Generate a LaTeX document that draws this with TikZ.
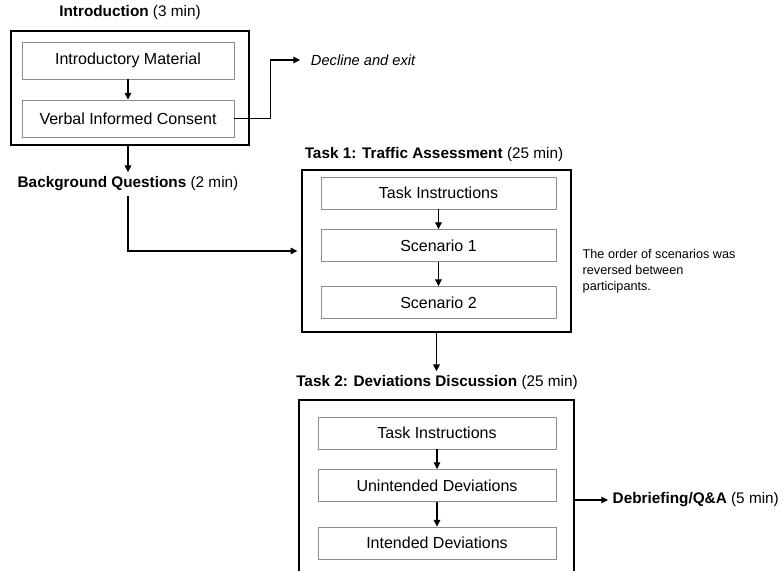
\documentclass[tikz,border=0pt]{standalone}
\usepackage{fontspec}
\setmainfont{Liberation Sans}
\usetikzlibrary{arrows.meta}

\begin{document}
\begin{tikzpicture}[x=0.75pt,y=-0.75pt,
  every node/.style={font=\fontsize{12}{14}\selectfont},
  title/.style={font=\fontsize{11.5}{14}\selectfont},
  outer/.style={draw=black,line width=1pt,inner sep=0pt},
  stagebox/.style={draw=black!45,line width=0.7pt,inner sep=0pt,minimum height=24pt},
  arr/.style={-{Triangle[length=5pt,width=5pt]},line width=0.8pt}]
% Canvas
\clip (0,0) rectangle (783,571);

% Introduction
\node[title] (introT) at (130,13) {\textbf{Introduction} (3 min)};
\node[outer,minimum width=178.5pt,minimum height=85.5pt] (intro) at (130,88) {};
\node[stagebox,minimum width=159pt,minimum height=27.75pt] (intromat) at (128,60.5) {Introductory Material};
\node[stagebox,minimum width=159pt,minimum height=27.75pt] (consent) at (128,118.5) {Verbal Informed Consent};
\node[anchor=west,inner xsep=8pt,font=\fontsize{11}{13}\selectfont] (decline) at (300,60) {\textit{Decline and exit}};
\draw[arr] (intromat) -- (consent);
\draw[arr] (consent.east) -- ++(36,0) |- (decline.west);

% Background questions
\node[title] (bgq) at (128,184) {\textbf{Background Questions} (2 min)};
\draw[arr] (intro.south -| consent) -- (bgq.north -| consent);

% Task 1
\node[title] (t1T) at (434,155) {\textbf{Task 1: Traffic Assessment} (25 min)};
\node[outer,minimum width=201.75pt,minimum height=121.5pt] (task1) at (436.5,251) {};
\node[stagebox,minimum width=176.25pt] (t1instr) at (438.5,193) {Task Instructions};
\node[stagebox,minimum width=176.25pt] (scen1) at (438.5,245.5) {Scenario 1};
\node[stagebox,minimum width=176.25pt] (scen2) at (438.5,302.5) {Scenario 2};
\node[anchor=west,align=left,font=\fontsize{9.5}{12}\selectfont] (order) at (578,271)
  {The order of scenarios was\\reversed between\\participants.};
\draw[arr] (t1instr) -- (scen1);
\draw[arr] (scen1) -- (scen2);
\draw[arr,shorten >=3pt] (bgq.south -| consent) |- (task1.west);

% Task 2
\node[title] (t2T) at (437,383) {\textbf{Task 2: Deviations Discussion} (25 min)};
\node[outer,minimum width=206.25pt,minimum height=150pt] (task2) at (436.5,500) {};
\node[stagebox,minimum width=178.5pt] (t2instr) at (437,433) {Task Instructions};
\node[stagebox,minimum width=178.5pt] (unint) at (437,485.5) {Unintended Deviations};
\node[stagebox,minimum width=178.5pt] (intend) at (437,543) {Intended Deviations};
\draw[arr] (task1.south) -- (task1.south |- t2T.north);
\draw[arr] (t2instr) -- (unint);
\draw[arr] (unint) -- (intend);

% Debriefing
\node[title,anchor=west] (debrief) at (608,500) {\textbf{Debriefing/Q\&A} (5 min)};
\draw[arr] (task2.east) -- (task2.east -| debrief.west);

\end{tikzpicture}
\end{document}
